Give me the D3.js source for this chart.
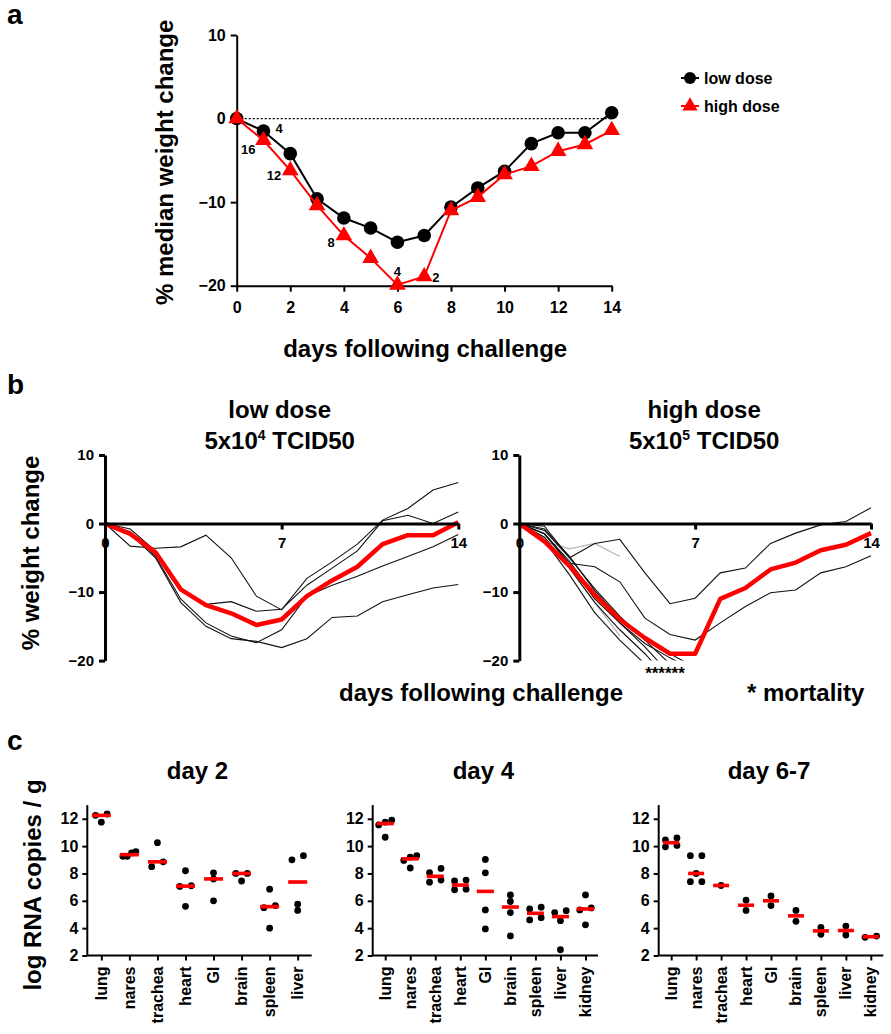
<!DOCTYPE html>
<html><head><meta charset="utf-8">
<script src="https://cdn.jsdelivr.net/npm/d3@7"></script>
<style>
body{margin:0;background:#fff}
svg text{font-family:"Liberation Sans",Arial,Helvetica,sans-serif;font-weight:bold;fill:#000}
</style>
</head><body>
<svg id="fig" width="891" height="1034"></svg>
<script>
// ---------------- DATA ----------------
// Panel a: median % weight change
const aDays = d3.range(0, 15);
const aLow  = [0, -1.5, -4.2, -9.6, -11.9, -13.1, -14.8, -14.0, -10.6, -8.3, -6.3, -3.0, -1.7, -1.7, 0.7];
const aHigh = [0, -2.6, -6.2, -10.4, -14.0, -16.7, -19.9, -18.9, -11.0, -9.4, -6.7, -5.7, -3.9, -3.1, -1.4];
const aLowN  = [{day: 1, n: 4}];
const aHighN = [{day: 1, n: 16}, {day: 2, n: 12}, {day: 4, n: 8}, {day: 6, n: 4}, {day: 7, n: 2}];
const aYTicks = [-20, -10, 0, 10];
const aXTicks = [0, 2, 4, 6, 8, 10, 12, 14];

// Panel b: individual animals (thin) and median (red)
const bLowMedian = [0, -1.5, -4.2, -9.6, -11.9, -13.1, -14.8, -14.0, -10.6, -8.3, -6.3, -3.0, -1.7, -1.7, 0.2];
const bLowMice = [
  [0, -3.3, -3.6, -3.4, -1.7, -5.0, -10.6, -12.6, -8.0, -5.6, -3.0, 0.5, 2.2, 4.9, 6.0],
  [0, -0.8, -4.0, -9.5, -11.8, -11.4, -12.8, -12.5, -9.0, -6.5, -4.0, 0.4, 1.2, 0.0, 1.7],
  [0, -1.2, -4.8, -11.0, -14.5, -16.4, -17.4, -15.5, -10.6, -9.0, -7.7, -6.2, -4.8, -3.4, -1.6],
  [0, -1.5, -5.0, -11.5, -15.0, -16.8, -17.2, -18.1, -16.8, -13.7, -13.5, -11.4, -10.4, -9.4, -8.9]
];
const bHighMedian = [0, -2.6, -6.2, -10.4, -14.0, -16.7, -19.0, -19.0, -11.0, -9.4, -6.7, -5.7, -3.9, -3.1, -1.4];
const bHighMice = [
  [0, -0.4, -5.0, -2.9, -2.3, -7.2, -11.7, -10.9, -7.2, -6.5, -2.9, -1.4, -0.2, 0.3, 2.3],
  [0, -1.5, -5.8, -6.3, -8.5, -13.8, -16.2, -17.0, -14.5, -12.1, -10.1, -9.7, -7.2, -6.3, -4.7],
  [0, -1.5, -5.5, -10.5, -14.5, -18.0, -22.0],
  [0, -2.0, -6.5, -11.5, -15.5, -19.0, -23.0],
  [0, -2.5, -7.5, -13.0, -17.0, -20.5],
  [0, -1.0, -5.0, -9.5, -13.5, -17.0, -20.5],
  [0, -1.5, -6.0, -11.0, -14.5, -17.5, -19.6, -21.5],
  [0, -0.8, -4.8, -9.8, -13.8, -16.8, -19.0, -21.0]
];
const bHighSacrificed = [
  [0, -2.6, -3.7, -2.9, -4.8],
  [0, -2.0, -6.5, -11.5, -16.4]
];
const bYTicks = [-20, -10, 0, 10];
const bXTicks = [0, 7, 14];

// Panel c: log RNA copies / g per tissue
const cTissues2 = ["lung", "nares", "trachea", "heart", "GI", "brain", "spleen", "liver"];
const cValues2 = [
  [12.35, 12.25, 11.75],
  [9.25, 9.6, 9.5, 9.25],
  [8.5, 10.25, 8.85],
  [7.05, 8.2, 7.1, 5.6],
  [8.05, 7.6, 6.0],
  [8.0, 7.45, 8.0],
  [5.65, 6.85, 5.5, 4.0],
  [9.0, 9.3, 5.75, 5.3]
];
const cTissues4 = ["lung", "nares", "trachea", "heart", "GI", "brain", "spleen", "liver", "kidney"];
const cValues4 = [
  [11.9, 11.55, 11.75, 10.65],
  [9.3, 9.2, 8.4, 8.95],
  [8.06, 7.36, 8.37, 7.52],
  [7.45, 6.8, 7.52, 6.85],
  [9.02, 8.05, 5.33, 3.94],
  [6.43, 5.95, 5.14, 3.43],
  [5.4, 4.6, 5.53, 4.77],
  [5.14, 4.55, 5.28, 2.42],
  [5.48, 6.43, 5.33, 4.24]
];
const cTissues67 = ["lung", "nares", "trachea", "heart", "GI", "brain", "spleen", "liver", "kidney"];
const cValues67 = [
  [10.45, 9.95, 10.6, 10.05],
  [9.3, 9.3, 7.4, 7.4, 8.0],
  [7.12],
  [6.05, 5.3],
  [6.35, 5.65],
  [5.3, 4.5],
  [4.05, 3.55],
  [4.15, 3.5],
  [3.33, 3.42]
];
const cYTicks = [2, 4, 6, 8, 10, 12];

// ---------------- DRAWING ----------------
const RED = "#ff0000";
const svg = d3.select("#fig");

function label(x, y, s, size, anchor = "start", rot = 0, fill = "#000") {
  const t = svg.append("text").attr("font-size", size).attr("text-anchor", anchor).attr("fill", fill);
  if (rot) t.attr("transform", `translate(${x},${y}) rotate(${rot})`).attr("dominant-baseline", "central");
  else t.attr("x", x).attr("y", y);
  t.text(s);
  return t;
}
function styleAxis(g, sw, fs) {
  g.select(".domain").attr("stroke", "#000").attr("stroke-width", sw);
  g.selectAll(".tick line").attr("stroke", "#000").attr("stroke-width", sw);
  g.selectAll(".tick text").attr("font-size", fs).attr("fill", "#000")
    .attr("font-family", '"Liberation Sans",Arial,sans-serif').attr("font-weight", "bold");
}

// Panel labels
label(7, 24, "a", 28);
label(7, 394, "b", 28);
label(7, 750, "c", 28);

// ===== Panel a =====
const xa = d3.scaleLinear().domain([0, 14]).range([236.7, 611.7]);
const ya = d3.scaleLinear().domain([-20, 10]).range([285.7, 35]);
const ga = svg.append("g");
ga.append("line").attr("x1", xa(0)).attr("x2", xa(14)).attr("y1", ya(0)).attr("y2", ya(0))
  .attr("stroke", "#000").attr("stroke-width", 1.3).attr("stroke-dasharray", "2,2");
const axA_y = ga.append("g").attr("transform", `translate(${xa(0)},0)`)
  .call(d3.axisLeft(ya).tickValues(aYTicks).tickFormat(d3.format("d")).tickSize(6).tickSizeOuter(0).tickPadding(5));
styleAxis(axA_y, 2, 16);
const axA_x = ga.append("g").attr("transform", `translate(0,${ya(-20)})`)
  .call(d3.axisBottom(xa).tickValues(aXTicks).tickSize(6).tickSizeOuter(0).tickPadding(10));
styleAxis(axA_x, 2, 16);

const lineA = d3.line().x((d, i) => xa(aDays[i])).y(d => ya(d));
ga.append("path").datum(aLow).attr("d", lineA).attr("fill", "none").attr("stroke", "#000").attr("stroke-width", 2);
ga.selectAll("circle.low").data(aLow).join("circle").attr("class", "low")
  .attr("cx", (d, i) => xa(aDays[i])).attr("cy", d => ya(d)).attr("r", 6.8).attr("fill", "#000");
ga.append("path").datum(aHigh).attr("d", lineA).attr("fill", "none").attr("stroke", RED).attr("stroke-width", 2);
const tri = d3.symbol().type(d3.symbolTriangle).size(120);
ga.selectAll("path.high").data(aHigh).join("path").attr("class", "high")
  .attr("transform", (d, i) => `translate(${xa(aDays[i])},${ya(d)})`).attr("d", tri).attr("fill", RED);

// n labels
const lowOff = {1: [12, 2, "start"]};
aLowN.forEach(o => {
  const off = lowOff[o.day];
  label(xa(o.day) + off[0], ya(aLow[o.day]) + off[1], String(o.n), 13, off[2]);
});
const highOff = {1: [-8, 14, "end"], 2: [-9, 10, "end"], 4: [-9, 11, "end"], 6: [0, -9, "middle"], 7: [8, 5, "start"]};
aHighN.forEach(o => {
  const off = highOff[o.day];
  label(xa(o.day) + off[0], ya(aHigh[o.day]) + off[1], String(o.n), 13, off[2], 0, RED);
});
label(xa(7) + 1, 357, "days following challenge", 24, "middle");
label(164, (ya(10) + ya(-20)) / 2 + 2, "% median weight change", 24, "middle", -90);

// legend
const legY = [78, 106];
ga.append("line").attr("x1", 681).attr("x2", 699).attr("y1", legY[0]).attr("y2", legY[0]).attr("stroke", "#000").attr("stroke-width", 2);
ga.append("circle").attr("cx", 690).attr("cy", legY[0]).attr("r", 6).attr("fill", "#000");
ga.append("line").attr("x1", 681).attr("x2", 699).attr("y1", legY[1]).attr("y2", legY[1]).attr("stroke", RED).attr("stroke-width", 2);
ga.append("path").attr("transform", `translate(690,${legY[1]})`).attr("d", d3.symbol().type(d3.symbolTriangle).size(100)).attr("fill", RED);
label(704, legY[0] + 6, "low dose", 16);
label(704, legY[1] + 6, "high dose", 16);

// ===== Panel b =====
const yb = d3.scaleLinear().domain([-20, 10]).range([660.6, 455]);
function panelB(x0, x1, mice, grey, median, id) {
  const xb = d3.scaleLinear().domain([0, 14]).range([x0, x1]);
  const g = svg.append("g");
  g.append("clipPath").attr("id", id).append("rect")
    .attr("x", x0).attr("y", yb(10)).attr("width", x1 - x0 + 20).attr("height", yb(-20) - yb(10));
  const ln = d3.line().x((d, i) => xb(i)).y(d => yb(d));
  const lg = g.append("g").attr("clip-path", `url(#${id})`);
  lg.selectAll("path.grey").data(grey).join("path").attr("class", "grey").attr("d", ln)
    .attr("fill", "none").attr("stroke", "#b4b4b4").attr("stroke-width", 1.2);
  lg.selectAll("path.mouse").data(mice).join("path").attr("class", "mouse").attr("d", ln)
    .attr("fill", "none").attr("stroke", "#111").attr("stroke-width", 1.1);
  const ax = g.append("g").attr("transform", `translate(${x0},0)`)
    .call(d3.axisLeft(yb).tickValues(bYTicks).tickFormat(d3.format("d")).tickSize(6).tickSizeOuter(0).tickPadding(5));
  styleAxis(ax, 3, 15);
  const axx = g.append("g").attr("transform", `translate(0,${yb(0)})`)
    .call(d3.axisBottom(xb).tickValues(bXTicks).tickSize(6).tickSizeOuter(0).tickPadding(8));
  styleAxis(axx, 3, 15);
  lg.append("path").datum(median).attr("d", ln).attr("fill", "none").attr("stroke", RED).attr("stroke-width", 4.5)
    .attr("stroke-linejoin", "round");
  return xb;
}
const xbL = panelB(105, 458.3, bLowMice, [], bLowMedian, "clipL");
const xbR = panelB(519.3, 871, bHighMice, bHighSacrificed, bHighMedian, "clipR");

function doseTitle(cx, name, exp) {
  label(cx, 418, name, 24, "middle");
  const t = svg.append("text").attr("x", cx).attr("y", 449).attr("font-size", 24).attr("text-anchor", "middle");
  t.append("tspan").text("5x10");
  t.append("tspan").attr("font-size", 14).attr("dy", -9).text(exp);
  t.append("tspan").attr("dy", 9).text(" TCID50");
}
doseTitle(xbL(7) - 2, "low dose", "4");
doseTitle(xbR(7) + 9, "high dose", "5");
label(30, 553, "% weight change", 24, "middle", -90);
label(481, 701, "days following challenge", 24, "middle");
label(747, 701, "* mortality", 24, "start");
label(xbR(5.8), 679, "******", 17, "middle");

// ===== Panel c =====
const yc = d3.scaleLinear().domain([2, 13]).range([955.5, 805.1]);
function layoutPoints(vals, cx) {
  const idx = vals.map(v => v).sort((a, b) => a - b);
  const clusters = [];
  let cur = [idx[0]];
  for (let k = 1; k < idx.length; k++) {
    if (idx[k] - cur[cur.length - 1] < 0.37) cur.push(idx[k]);
    else { clusters.push(cur); cur = [idx[k]]; }
  }
  clusters.push(cur);
  const out = [];
  clusters.forEach(c => {
    const n = c.length;
    const sp = n === 2 ? 11.5 : (n > 2 ? 13 / (n - 1) : 0);
    c.forEach((v, j) => out.push({v, x: cx + (j - (n - 1) / 2) * sp}));
  });
  return out;
}
function panelC(x0, x1, tissues, values, title, barW) {
  const xc = d3.scalePoint().domain(tissues).range([x0, x1]).padding(0.5);
  const g = svg.append("g");
  const ay = g.append("g").attr("transform", `translate(${x0},0)`)
    .call(d3.axisLeft(yc).tickValues(cYTicks).tickSize(5).tickSizeOuter(0).tickPadding(4));
  styleAxis(ay, 2, 16);
  const ax = g.append("g").attr("transform", `translate(0,${yc(2)})`)
    .call(d3.axisBottom(xc).tickSize(5).tickSizeOuter(0).tickFormat(""));
  styleAxis(ax, 2, 16);
  ax.select(".domain").attr("d", `M${x0},0H${x1}`);
  ay.select(".domain").attr("d", `M0,${yc(13)}V${yc(2)}`);
  tissues.forEach((t, i) => {
    const pts = layoutPoints(values[i], xc(t));
    g.selectAll(null).data(pts).join("circle").attr("cx", d => d.x).attr("cy", d => yc(d.v)).attr("r", 3.4).attr("fill", "#000");
    const med = d3.median(values[i]);
    g.append("rect").attr("x", xc(t) - barW / 2).attr("y", yc(med) - 1.8).attr("width", barW).attr("height", 3.6).attr("fill", RED);
    svg.append("text").attr("font-size", 16).attr("text-anchor", "end").attr("dominant-baseline", "central")
      .attr("transform", `translate(${xc(t)},${yc(2) + 11}) rotate(-90)`).text(t);
  });
  label((x0 + x1) / 2 - 2, 779, title, 24, "middle");
}
panelC(87.3, 311.7, cTissues2, cValues2, "day 2", 19);
panelC(372.7, 598, cTissues4, cValues4, "day 4", 17);
panelC(658.7, 883.3, cTissues67, cValues67, "day 6-7", 16);
label(32, 885, "log RNA copies / g", 24, "middle", -90);
</script>
</body></html>
